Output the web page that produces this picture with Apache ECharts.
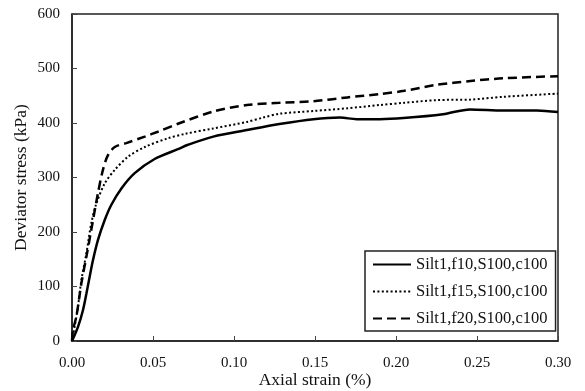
<!DOCTYPE html>
<html>
<head>
<meta charset="utf-8">
<script src="https://cdn.jsdelivr.net/npm/echarts@6/dist/echarts.min.js"></script>
<style>html,body{margin:0;padding:0;background:#fff}#c{width:585px;height:391px}</style>
</head>
<body>
<div id="c"></div>
<script>
var xTicks = [0, 0.05, 0.10, 0.15, 0.20, 0.25, 0.30];
var yTicks = [0, 100, 200, 300, 400, 500, 600];
var seriesNames = ['Silt1,f10,S100,c100', 'Silt1,f15,S100,c100', 'Silt1,f20,S100,c100'];

var f10Strain = [0, 0.0037, 0.0068, 0.0089, 0.0109, 0.013, 0.016, 0.0202, 0.0243, 0.0305, 0.0387, 0.051, 0.0654, 0.0716, 0.0872, 0.108, 0.128, 0.149, 0.1654, 0.1757, 0.190, 0.2046, 0.229, 0.2457, 0.266, 0.287, 0.30];
var f10Stress = [0, 26, 57, 87, 118, 149, 185, 222, 250, 280, 308, 334, 352, 360, 375, 387, 398, 407, 410, 407, 407, 409, 416, 425, 423, 423, 420];

var f15Strain = [0, 0.0016, 0.0037, 0.0058, 0.0089, 0.0119, 0.015, 0.0202, 0.0264, 0.0346, 0.0449, 0.0593, 0.0696, 0.0872, 0.108, 0.118, 0.128, 0.149, 0.170, 0.190, 0.205, 0.225, 0.246, 0.266, 0.30];
var f15Stress = [0, 26, 63, 112, 161, 216, 252, 289, 314, 338, 356, 372, 380, 390, 402, 410, 417, 422, 427, 433, 437, 442, 443, 448, 454];

var f20Strain = [0, 0.0006, 0.0027, 0.0058, 0.0089, 0.0119, 0.016, 0.0191, 0.0222, 0.0264, 0.0335, 0.0449, 0.053, 0.0667, 0.0872, 0.108, 0.128, 0.149, 0.170, 0.190, 0.205, 0.225, 0.246, 0.266, 0.30];
var f20Stress = [0, 20, 45, 106, 155, 204, 271, 314, 341, 356, 363, 375, 384, 400, 421, 433, 437, 440, 447, 453, 459, 470, 477, 482, 486];

function zip(a, b) { return a.map(function (v, i) { return [v, b[i]]; }); }

var font = 'Liberation Serif';
var chart = echarts.init(document.getElementById('c'));
chart.setOption({
  animation: false,
  backgroundColor: '#fff',
  grid: { left: 72, top: 14, right: 27, bottom: 50, show: true, borderColor: '#222', borderWidth: 1.5, backgroundColor: 'transparent', containLabel: false, outerBoundsMode: 'none' },
  xAxis: {
    type: 'value', min: xTicks[0], max: xTicks[xTicks.length - 1], interval: 0.05,
    name: 'Axial strain (%)', nameLocation: 'middle', nameGap: 30, nameMoveOverlap: false,
    nameTextStyle: { fontFamily: font, fontSize: 17.5, color: '#111' },
    axisLine: { lineStyle: { color: '#222', width: 1.5 } },
    axisTick: { inside: true, length: 5, lineStyle: { color: '#444' } },
    splitLine: { show: false },
    axisLabel: { fontFamily: font, fontSize: 15, color: '#111', margin: 15, formatter: function (v) { return v.toFixed(2); } }
  },
  yAxis: {
    type: 'value', min: yTicks[0], max: yTicks[yTicks.length - 1], interval: 100,
    name: 'Deviator stress (kPa)', nameLocation: 'middle', nameGap: 42, nameMoveOverlap: false,
    nameTextStyle: { fontFamily: font, fontSize: 17.5, color: '#111' },
    axisLine: { lineStyle: { color: '#222', width: 1.5 } },
    axisTick: { inside: true, length: 5, lineStyle: { color: '#444' } },
    splitLine: { show: false },
    axisLabel: { fontFamily: font, fontSize: 15, color: '#111', margin: 12 }
  },
  legend: {
    orient: 'vertical', left: 365, top: 251,
    padding: [5, 8, 4, 7], itemGap: 10, itemWidth: 38, itemHeight: 17,
    borderColor: '#222', borderWidth: 1.5, backgroundColor: '#fff',
    itemStyle: { opacity: 0 },
    textStyle: { fontFamily: font, fontSize: 16.5, color: '#111', padding: [0, 0, 0, 0] },
    data: seriesNames
  },
  series: [
    { name: seriesNames[0], type: 'line', symbol: 'none', smooth: 0.3, data: zip(f10Strain, f10Stress),
      lineStyle: { color: '#000', width: 2.5, type: 'solid' }, itemStyle: { color: '#000' } },
    { name: seriesNames[1], type: 'line', symbol: 'none', smooth: 0.3, data: zip(f15Strain, f15Stress),
      lineStyle: { color: '#000', width: 2, type: [2, 2.4] }, itemStyle: { color: '#000' } },
    { name: seriesNames[2], type: 'line', symbol: 'none', smooth: 0.3, data: zip(f20Strain, f20Stress),
      lineStyle: { color: '#000', width: 2.5, type: [9, 5] }, itemStyle: { color: '#000' } }
  ]
});
</script>
</body>
</html>
